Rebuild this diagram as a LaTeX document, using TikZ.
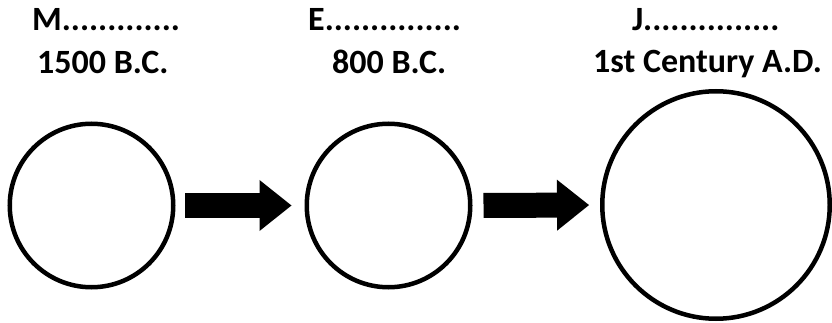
\documentclass[tikz,border=0pt]{standalone}
\usepackage{fontspec}
\setmainfont{Carlito}
\usetikzlibrary{arrows.meta}
\tikzset{
  lbl/.style={inner sep=0pt, anchor=base west, font=\fontsize{34}{40}\selectfont\bfseries},
  circ/.style={draw=black, circle, line width=4.5pt, inner sep=0pt},
  bigarrow/.style={line width=25pt, draw=black, -{Triangle[length=32pt, width=51pt, line width=0pt]}}
}
\begin{document}
\begin{tikzpicture}[x=1pt, y=-1pt]
\useasboundingbox (0,0) rectangle (832,323);
\node[lbl] (m) at (32,31) {M.............};
\node[lbl] (d1) at (37,74) {1500 B.C.};
\node[lbl] (e) at (308,31) {E...............};
\node[lbl] (d2) at (332,74) {800 B.C.};
\node[lbl] (j) at (632,31) {J...............};
\node[lbl] (d3) at (593,73) {1st Century A.D.};
\node[circ, minimum size=163.5pt] (c1) at (91.5,205.5) {};
\node[circ, minimum size=163.5pt] (c2) at (388.5,205.5) {};
\node[circ, minimum size=227.5pt] (c3) at (716,205) {};
\draw[bigarrow, shorten <=9.5pt, shorten >=13pt] (c1.east) -- (c2.west);
\draw[bigarrow, shorten <=11pt, shorten >=11pt] (c2.east) -- (c3.west);
\end{tikzpicture}
\end{document}
